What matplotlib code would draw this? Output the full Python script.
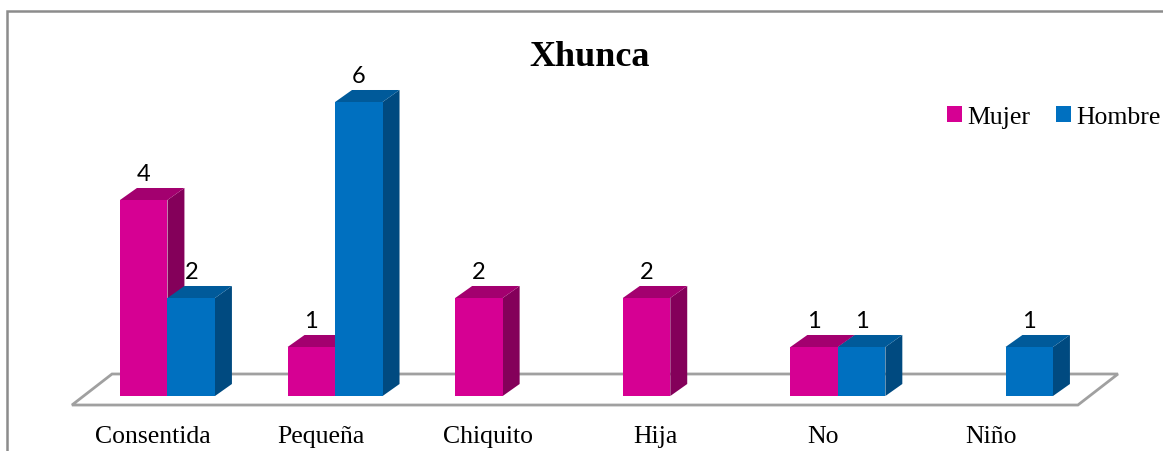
import matplotlib
matplotlib.use("Agg")
import matplotlib.pyplot as plt
from matplotlib.patches import Polygon, Rectangle, Patch

categories = ["Consentida", "Pequeña", "Chiquito", "Hija", "No", "Niño"]
mujer = [4, 1, 2, 2, 1, 0]
hombre = [2, 6, 0, 0, 1, 1]
series = [("Mujer", mujer), ("Hombre", hombre)]

# face colours: front, top, side
colors = {
    "Mujer": ("#d60093", "#a3006f", "#84005a"),
    "Hombre": ("#0070c0", "#005a9a", "#004a80"),
}

W, H = 1163, 452
fig = plt.figure(figsize=(W / 100, H / 100), dpi=100)
ax = fig.add_axes([0, 0, 1, 1])
# one category = 167.6 px, one unit of value = 49 px, baseline 55 px from bottom
ax.set_xlim(-167.5 / 167.6, (W - 167.5) / 167.6)
ax.set_ylim(-55 / 49, (H - 55) / 49)
ax.axis("off")

# chart border (only left and top edges fall inside the image)
fig.patches.append(Rectangle((7 / W, -0.1), 1.2, (H - 12) / H + 0.1,
                             transform=fig.transFigure, fill=False,
                             edgecolor="#8c8c8c", lw=1.8))

bw = 0.2834      # bar width in category units
dx = 0.101       # depth offset, x
dy = 0.245       # depth offset, y

# floor
floor = Polygon([(-0.570, -0.184), (5.432, -0.184), (5.671, 0.449), (-0.331, 0.449)],
                closed=True, facecolor="white", edgecolor="#a0a0a0", lw=2, zorder=1)
ax.add_patch(floor)

for s, (name, vals) in enumerate(series):
    front, top, side = colors[name]
    for i, v in enumerate(vals):
        if v == 0:
            continue
        x0 = i - bw + s * bw
        x1 = x0 + bw
        z = 2 + s
        ax.add_patch(Polygon([(x1, 0), (x1 + dx, dy), (x1 + dx, v + dy), (x1, v)],
                             closed=True, facecolor=side, edgecolor="none", zorder=z))
        ax.add_patch(Polygon([(x0, v), (x1, v), (x1 + dx, v + dy), (x0 + dx, v + dy)],
                             closed=True, facecolor=top, edgecolor="none", zorder=z))
        ax.add_patch(Polygon([(x0, 0), (x1, 0), (x1, v), (x0, v)],
                             closed=True, facecolor=front, edgecolor="none", zorder=z))
        ax.text((x0 + x1) / 2, v + dy + 0.08, str(v), ha="center", va="bottom",
                fontsize=17, family="Lato", zorder=10)

for i, c in enumerate(categories):
    ax.text(i - 0.087, -0.816, c, ha="center", va="center",
            fontsize=18.5, family="Liberation Serif")

fig.text(590 / W, 1 - 58 / H, "Xhunca", ha="center", va="center",
         fontsize=26, fontweight="bold", family="Liberation Serif")

handles = [Patch(facecolor=colors[n][0], edgecolor="none") for n, _ in series]
fig.legend(handles, [n for n, _ in series], loc="center right",
           bbox_to_anchor=(1161 / W, 1 - 118 / H), ncol=2, frameon=False,
           prop={"family": "Liberation Serif", "size": 18.5},
           handlelength=0.6, handleheight=0.6, handletextpad=0.2,
           columnspacing=1.0, borderpad=0, borderaxespad=0)

fig.savefig("out.png", dpi=100)
